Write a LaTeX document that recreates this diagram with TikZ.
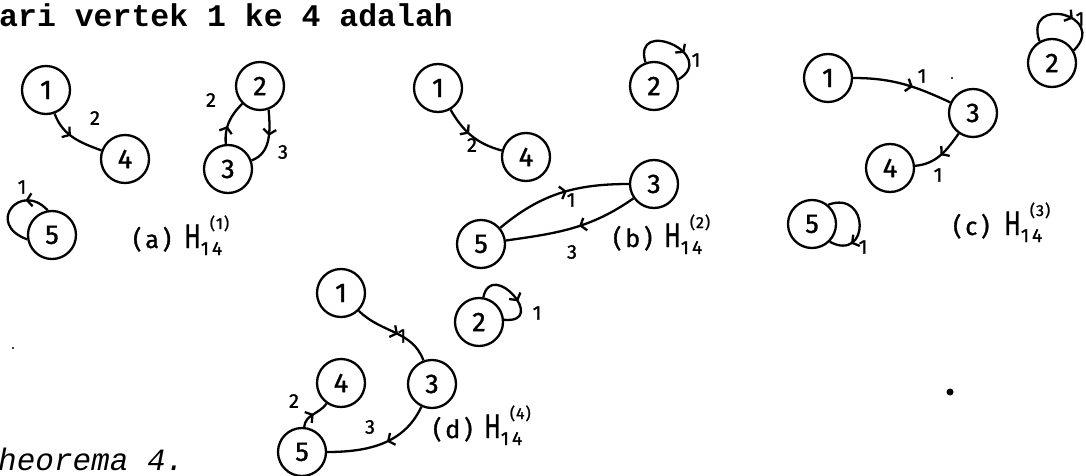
\documentclass[tikz,border=0pt]{standalone}
\usepackage{fontspec}
\setmainfont{Fira Sans}
\newfontfamily\hand[FakeBold=1.2]{Fira Sans}
\newfontfamily\monofont{Liberation Mono}
\usetikzlibrary{arrows.meta,decorations.markings}
\newcommand\hcap[2]{\hand%
 \makebox[51pt][l]{\fontsize{25}{27}\selectfont (\kern4pt#1\kern4pt)}%
 \scalebox{0.72}[1]{\fontsize{34}{36}\selectfont H}%
 \makebox[0pt][l]{\raisebox{-7pt}{\fontsize{19}{20}\selectfont 1\kern3pt4}}%
 \kern9pt\raisebox{19pt}{\fontsize{16}{17}\selectfont (\kern1pt#2\kern1pt)}}
\begin{document}
\begin{tikzpicture}[x=1pt,y=1pt,
 vtx/.style={circle,draw,line width=2.3pt,minimum size=48pt,inner sep=0pt,font=\hand\fontsize{27}{29}\selectfont},
 edge/.style={line width=2.3pt},
 midarr/.style={postaction={decorate},decoration={markings,mark=at position #1 with {\arrow{Straight Barb[length=5pt,width=13pt]}}}},
 lbl/.style={font=\hand\fontsize{20}{22}\selectfont,inner sep=0pt},
 capt/.style={anchor=base west,inner sep=0pt},
]
\useasboundingbox (0,0) rectangle (1086,475);
\clip (0,0) rectangle (1086,475);

% texts
\node[anchor=base west,inner sep=0pt,font=\monofont\bfseries\fontsize{31.5}{33}\selectfont] (top) at (-1,448) {ari vertek 1 ke 4 adalah};
\node[anchor=base west,inner sep=0pt,font=\monofont\itshape\fontsize{31}{33}\selectfont] (thm) at (-2,5) {heorema 4.};

% ---------- (a)
\node[vtx] (a1) at (46,385) {1};
\node[vtx] (a4) at (125,316) {4};
\node[vtx] (a2) at (260,389) {2};
\node[vtx] (a3) at (228,306) {3};
\node[vtx] (a5) at (52,240) {5};
\draw[edge,midarr=0.45] (a1) to[out=-70,in=160] (a4);
\node[lbl] (la14) at (95,357) {2};
\draw[edge,midarr=0.4] (a3) to[out=95,in=225] (a2);
\node[lbl] (la32) at (211,375) {2};
\draw[edge,midarr=0.45] (a2.-70) to[out=-85,in=20] (a3.20);
\node[lbl] (la23) at (283,323) {3};
\draw[edge,midarr=0.3] (a5.100) .. controls +(133:40) and +(160:45) .. (a5.190);
\node[lbl] (la55) at (22,288) {1};
\node[capt] (ca) at (133,227) {\hcap{a}{1}};

% ---------- (b)
\node[vtx] (b1) at (438,387) {1};
\node[vtx] (b4) at (526,318) {4};
\node[vtx] (b2) at (654,389) {2};
\node[vtx] (b3) at (654,291) {3};
\node[vtx] (b5) at (481,231) {5};
\draw[edge,midarr=0.45] (b1) to[out=-60,in=165] (b4);
\node[lbl] (lb14) at (472,330) {2};
\draw[edge,midarr=0.55] (b5) to[out=40,in=180] (b3);
\node[lbl] (lb53) at (571,275) {1};
\draw[edge,midarr=0.45] (b3) to[out=-145,in=8] (b5);
\node[lbl] (lb35) at (572,223) {3};
\draw[edge,midarr=0.65] (b2.110) .. controls +(106:48) and +(31:48) .. (b2.15);
\node[lbl] (lb22) at (696,415) {1};
\node[capt] (cb) at (613,228) {\hcap{b}{2}};

% ---------- (c)
\node[vtx] (c1) at (828,397) {1};
\node[vtx] (c3) at (973,362) {3};
\node[vtx] (c4) at (890,307) {4};
\node[vtx] (c2) at (1052,412) {2};
\node[vtx] (c5) at (812,251) {5};
\draw[edge,midarr=0.6] (c1) to[out=0,in=155] (c3);
\node[lbl] (lc13) at (922,399) {1};
\draw[edge,midarr=0.5] (c3) to[out=-125,in=5] (c4);
\node[lbl] (lc34) at (938,300) {1};
\draw[edge,midarr=0.6] (c2.120) .. controls +(109:50) and +(45:50) .. (c2.30);
\node[lbl] (lc22) at (1080,456) {1};
\draw[edge,midarr=0.75] (c5.50) .. controls +(20:45) and +(-28:45) .. (c5.-45);
\node[lbl] (lc55) at (863,228) {1};
\node[capt] (cc) at (953,240) {\hcap{c}{3}};

% ---------- (d)
\node[vtx] (d1) at (341,182) {1};
\node[vtx] (d4) at (341,92) {4};
\node[vtx] (d5) at (302,23) {5};
\node[vtx] (d3) at (432,91) {3};
\node[vtx] (d2) at (479,153) {2};
\draw[edge,midarr=0.55] (d1) to[out=-45,in=110] (d3);
\node[lbl] (ld13) at (402,139) {1};
\draw[edge,midarr=0.45] (d3) to[out=-115,in=0] (d5);
\node[lbl] (ld35) at (370,48) {3};
\draw[edge,midarr=0.5] (d5) to[out=85,in=235] (d4);
\node[lbl] (ld54) at (294,74) {2};
\draw[edge,midarr=0.6] (d2.80) .. controls +(78:40) and +(-5:45) .. (d2.5);
\node[lbl] (ld22) at (537,162) {1};
\node[capt] (cd) at (433,37) {\hcap{d}{4}};

% stray marks of the scan
\fill (13,127) circle (1.2);
\fill (952,397) circle (1.2);
\fill (950,83) circle (3.5);
\end{tikzpicture}
\end{document}
